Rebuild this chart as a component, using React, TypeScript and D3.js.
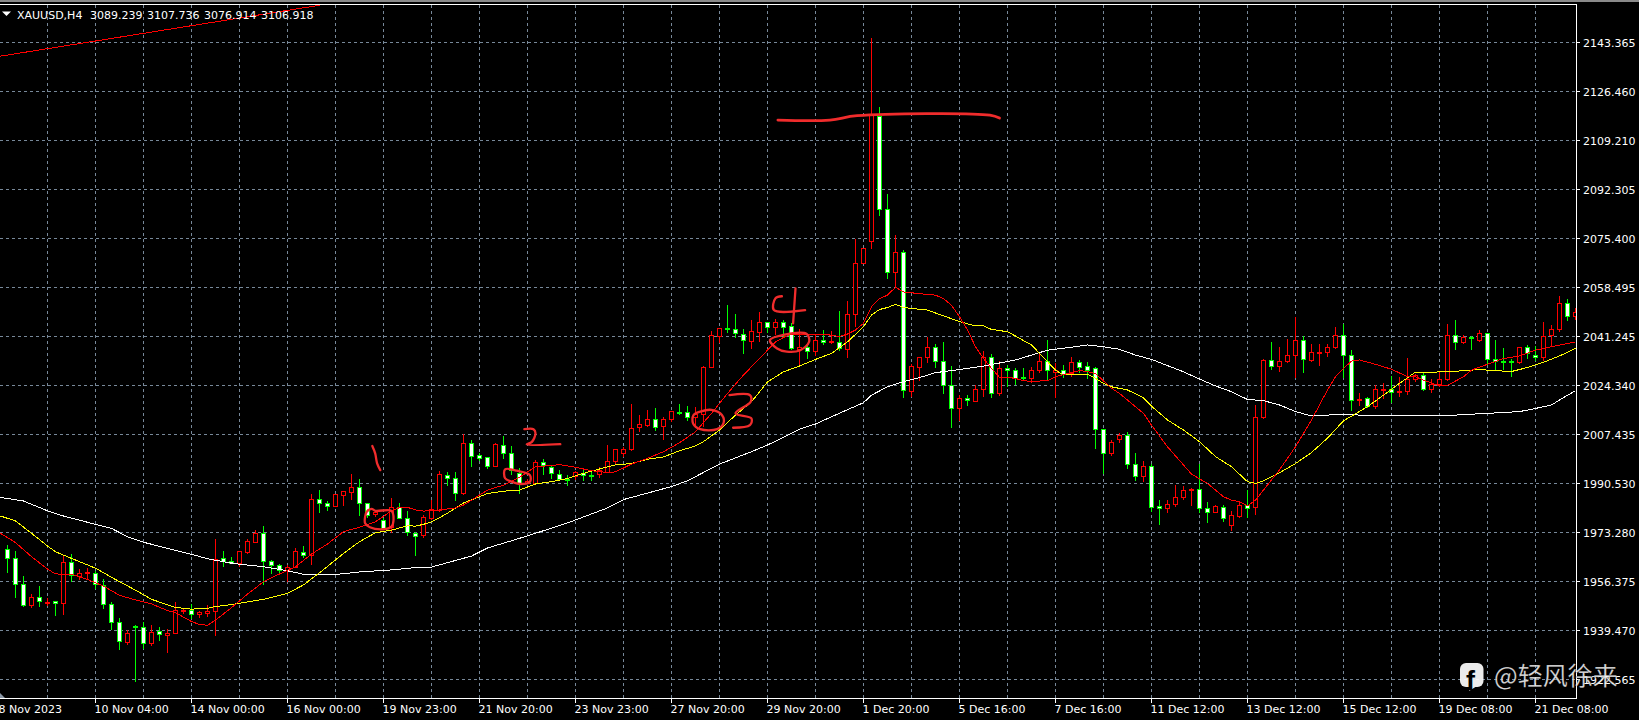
import React from "react";
import * as d3 from "d3";

type C = [number, number, number, number];

// OHLC, one 4-hour candle each
const candlesEarlyNov: C[] = [
  [1967.4,1968.9,1959.3,1964.3],[1964.3,1966.9,1950.7,1955.3],[1955.3,1958.2,1947.6,1948.0],[1948.0,1952.0,1947.2,1950.8],
  [1950.8,1954.7,1947.6,1949.4],[1949.1,1950.5,1947.8,1949.3],[1949.4,1949.6,1944.4,1948.7],[1948.7,1965.1,1944.8,1962.9],
  [1962.9,1965.7,1956.2,1958.4],[1958.2,1960.6,1956.8,1959.1],[1959.1,1960.8,1956.8,1959.5],[1959.3,1960.0,1953.8,1955.3],
  [1955.2,1957.0,1946.9,1948.4],[1948.4,1949.1,1939.5,1942.1],[1942.1,1943.5,1932.5,1935.5],[1935.4,1939.5,1934.3,1938.3],
  [1941.0,1941.2,1921.6,1940.4],[1940.4,1942.1,1933.0,1935.1],[1935.1,1941.2,1933.9,1938.7],[1939.0,1940.4,1935.7,1938.0],
  [1937.9,1939.7,1931.6,1938.3],[1938.3,1949.1,1938.3,1946.3],[1945.9,1947.0,1945.0,1946.4],[1946.3,1948.4,1943.4,1944.9],
  [1944.9,1946.2,1943.6,1945.6],[1945.5,1948.0,1943.9,1945.9],[1945.9,1971.0,1937.5,1964.2],[1964.3,1966.9,1961.4,1963.4],
  [1963.5,1964.8,1962.2,1962.6],[1962.6,1966.7,1961.4,1966.7],[1966.6,1970.9,1965.8,1970.2],[1970.1,1974.1,1969.7,1973.0],
  [1973.0,1975.5,1955.1,1963.3],[1963.3,1963.7,1958.9,1961.9],[1961.9,1962.4,1959.3,1960.3],[1960.2,1962.0,1956.0,1961.4],
  [1961.4,1967.8,1960.8,1966.7],[1966.4,1968.6,1964.5,1965.6],[1965.6,1986.6,1962.0,1984.8],[1984.8,1988.0,1980.0,1983.4],
  [1983.4,1984.2,1980.8,1982.6],[1982.6,1986.8,1982.4,1986.8],[1986.4,1987.5,1982.4,1987.5],[1987.4,1993.5,1984.5,1988.9],
  [1988.9,1991.7,1979.0,1983.4],[1983.4,1983.6,1978.2,1979.3],[1979.7,1981.1,1978.5,1980.5],[1977.6,1978.2,1974.4,1974.7],
  [1975.1,1985.1,1973.0,1982.2],[1982.2,1983.4,1977.8,1978.4],[1978.4,1980.7,1972.2,1973.3],[1973.2,1973.6,1965.2,1971.9],
];
const candlesLateNov: C[] = [
  [1972.4,1979.3,1971.4,1978.7],[1978.4,1984.5,1977.6,1981.4],[1981.1,1994.7,1980.5,1993.4],[1993.1,1994.2,1989.5,1992.3],
  [1992.3,1994.2,1984.3,1987.1],[1987.1,2007.6,1986.3,2004.2],[2004.2,2005.3,1996.1,1999.9],[2000.0,2000.9,1998.1,1999.2],
  [1999.3,1999.3,1995.3,1996.4],[1996.4,2004.2,1996.1,2003.8],[2003.5,2006.7,1998.7,2000.7],[2000.7,2003.3,1993.2,1994.9],
  [1994.0,1995.5,1986.8,1990.5],[1990.5,1992.0,1990.0,1991.2],[1990.5,1998.4,1990.3,1997.6],[1997.6,1998.6,1993.2,1996.7],
  [1996.1,1996.7,1991.8,1993.8],[1993.7,1994.9,1991.5,1992.0],[1992.0,1993.2,1989.5,1991.8],[1993.0,1994.7,1991.5,1994.1],
  [1994.0,1994.9,1991.1,1993.3],[1993.3,1994.9,1991.1,1993.1],[1993.5,1995.9,1992.3,1994.9],[1994.4,2003.5,1994.0,1998.2],
  [1998.2,2002.3,1997.0,2002.3],[2000.9,2003.0,1999.6,2002.4],[2002.3,2018.0,2001.6,2009.6],[2009.7,2014.0,2008.2,2010.8],
  [2010.6,2015.7,2010.0,2012.5],[2012.5,2016.3,2008.5,2010.0],[2010.3,2013.4,2005.3,2012.7],[2012.8,2015.3,2011.7,2015.3],
  [2015.2,2018.0,2014.0,2014.9],[2014.9,2017.1,2011.9,2013.4],[2013.4,2016.9,2010.0,2014.3],[2014.3,2031.0,2010.0,2030.8],
  [2030.8,2043.1,2030.4,2041.6],[2041.5,2044.3,2039.1,2044.3],[2044.3,2052.1,2042.5,2043.9],[2044.0,2049.0,2040.8,2042.5],
  [2042.2,2044.0,2035.1,2040.2],[2039.8,2046.9,2036.9,2043.0],[2042.9,2049.7,2039.4,2046.1],[2046.1,2046.1,2042.3,2044.7],
  [2044.7,2047.2,2041.7,2046.1],[2046.1,2046.9,2041.2,2044.7],[2044.8,2045.8,2036.5,2037.1],[2036.9,2044.0,2030.8,2037.7],
  [2037.7,2038.8,2033.4,2036.1],[2036.1,2041.7,2034.4,2039.9],
];
const candlesEarlyDec: C[] = [
  [2040.2,2043.5,2038.3,2039.4],[2039.3,2043.1,2038.6,2039.7],[2039.4,2050.1,2036.3,2037.1],[2037.0,2053.5,2033.8,2049.1],
  [2049.1,2075.2,2044.4,2066.9],[2066.9,2071.8,2066.8,2071.8],[2074.2,2144.6,2071.7,2118.0],[2117.6,2120.7,2083.0,2085.6],
  [2085.6,2090.6,2061.3,2063.5],[2063.5,2076.4,2057.9,2070.7],[2070.7,2071.4,2020.0,2022.6],[2022.4,2031.6,2020.4,2030.9],
  [2030.8,2034.0,2025.9,2034.0],[2034.0,2041.2,2031.9,2037.5],[2037.5,2038.6,2030.3,2032.6],[2032.6,2039.5,2021.3,2024.5],
  [2024.5,2030.9,2009.4,2016.3],[2016.3,2020.9,2012.0,2019.8],[2019.8,2020.9,2017.1,2019.1],[2019.0,2024.4,2018.6,2023.2],
  [2023.2,2036.1,2020.4,2034.0],[2034.0,2035.2,2020.0,2021.5],[2021.5,2032.7,2020.7,2030.2],[2030.2,2031.3,2023.8,2029.8],
  [2029.7,2030.2,2024.3,2026.9],[2027.1,2030.3,2025.7,2026.8],[2026.7,2030.8,2025.2,2029.5],[2029.5,2036.0,2028.7,2032.6],
  [2032.6,2040.0,2025.9,2029.5],[2029.0,2031.9,2020.0,2029.7],[2029.7,2031.3,2026.7,2028.1],[2028.7,2034.2,2027.3,2032.3],
  [2032.3,2033.1,2028.5,2030.8],[2030.9,2032.4,2026.4,2029.8],
];
const candlesMidDec: C[] = [
  [2030.2,2030.8,2002.3,2009.0],[2009.0,2009.0,1993.6,2000.7],[2000.7,2005.3,1999.9,2004.5],[2005.6,2007.9,2004.4,2007.1],
  [2007.1,2008.0,1995.3,1996.9],[1996.9,2000.7,1991.2,1992.7],[1992.7,1997.9,1990.9,1996.3],[1996.2,1996.9,1980.4,1982.2],
  [1982.3,1984.5,1976.0,1981.7],[1981.7,1984.5,1979.9,1983.0],[1983.0,1989.7,1982.0,1985.5],[1985.5,1989.4,1984.5,1987.9],
  [1987.9,1988.6,1982.6,1988.2],[1988.2,1997.0,1979.9,1981.7],[1981.7,1983.8,1976.5,1980.3],[1980.3,1982.8,1979.9,1982.3],
  [1982.2,1982.8,1977.0,1978.2],[1975.9,1980.7,1973.8,1979.2],[1979.1,1983.8,1978.4,1982.7],[1982.7,1988.0,1978.2,1981.7],
  [1982.0,2017.4,1979.3,2013.5],[2013.5,2033.4,2012.5,2033.0],[2033.0,2039.3,2029.6,2030.9],[2030.9,2037.6,2029.0,2032.6],
  [2032.6,2040.3,2031.9,2035.0],[2035.0,2048.1,2026.7,2040.2],
];
const candlesLateDec: C[] = [
  [2040.2,2041.5,2028.7,2033.3],[2033.2,2038.6,2032.3,2035.7],[2035.5,2038.6,2031.1,2035.8],[2035.7,2038.6,2034.2,2037.7],
  [2037.7,2044.6,2036.8,2041.6],[2041.6,2045.5,2026.7,2035.0],[2035.0,2036.5,2015.5,2019.1],[2019.1,2021.5,2017.1,2019.4],
  [2019.8,2020.1,2016.5,2017.2],[2017.2,2024.4,2016.0,2022.9],[2022.9,2025.0,2019.4,2023.2],[2023.1,2027.5,2018.3,2021.9],
  [2021.9,2027.3,2020.4,2022.2],[2022.2,2033.9,2020.9,2026.4],[2026.4,2028.4,2025.6,2027.8],[2027.8,2029.0,2022.4,2023.2],
  [2023.2,2026.5,2021.5,2024.6],[2024.6,2029.0,2023.6,2026.6],[2026.6,2045.5,2025.9,2041.6],[2041.6,2046.9,2036.5,2039.5],
  [2039.4,2041.7,2038.6,2040.9],[2040.9,2041.5,2036.5,2040.6],[2040.2,2043.5,2039.3,2042.3],[2042.3,2042.5,2031.3,2033.6],
  [2033.3,2040.0,2029.6,2032.6],[2032.7,2037.2,2029.8,2032.4],[2032.6,2033.6,2027.3,2032.4],[2032.3,2037.7,2031.7,2037.5],
  [2037.5,2038.3,2033.6,2035.5],[2035.0,2037.9,2032.8,2034.0],[2034.0,2046.4,2032.8,2041.5],[2041.6,2045.2,2037.5,2044.0],
  [2044.0,2055.3,2042.9,2052.7],[2052.7,2054.2,2046.7,2048.2],[2048.2,2051.0,2046.9,2049.8],
];

// moving averages as [candle number, price]
const fastMA: [number, number][] = [
  [-1,1973.2],[1,1969.8],[3,1964.9],[5,1960.6],[6,1958.9],[8,1958.8],[10,1957.0],[12,1954.7],[14,1951.5],[16,1949.9],[18,1948.5],[20,1946.2],[21,1945.5],[23,1942.4],[24,1941.4],[25,1941.1],[26,1942.9],[28,1947.2],[30,1951.9],[32,1956.2],[34,1958.9],[36,1961.4],[38,1965.8],[40,1969.3],[42,1973.6],[44,1975.1],[46,1977.0],[48,1980.8],[49,1981.9],[50,1982.0],[51,1981.1],
  [52,1980.7],[54,1981.1],[56,1981.8],[57,1982.8],[58,1984.5],[60,1988.0],[62,1989.7],[64,1992.4],[65,1994.3],[66,1996.1],[68,1996.5],[69,1996.8],[71,1995.9],[73,1994.7],[75,1994.1],[76,1994.3],[78,1997.0],[80,1999.0],[82,2001.3],[84,2004.4],[86,2008.2],[88,2014.6],[90,2021.5],[92,2027.9],[94,2033.6],[96,2039.4],[97,2040.9],[98,2042.1],[100,2042.0],[102,2042.1],
  [104,2041.2],[105,2042.1],[106,2043.5],[107,2045.8],[108,2051.6],[109,2054.4],[110,2055.6],[111,2058.3],[112,2056.7],[113,2056.4],[115,2055.8],[116,2055.6],[117,2054.4],[118,2052.1],[119,2048.1],[120,2043.5],[121,2037.7],[122,2033.6],[123,2030.2],[124,2027.1],[125,2027.1],[126,2026.7],[127,2025.9],[128,2025.7],[130,2025.9],[131,2027.3],[133,2028.7],[134,2029.4],[135,2029.1],[136,2028.4],
  [138,2023.3],[139,2021.5],[141,2016.9],[142,2014.6],[143,2010.5],[145,2003.0],[147,1996.7],[148,1993.5],[150,1990.3],[152,1985.7],[153,1984.5],[154,1984.0],[155,1982.5],[156,1984.5],[157,1988.0],[159,1995.0],[161,2003.0],[163,2012.3],[165,2022.7],[166,2027.3],[167,2030.2],[168,2032.7],[169,2033.1],[171,2031.6],[173,2029.9],[175,2027.3],[176,2027.3],[177,2026.1],[179,2024.1],[180,2024.3],[182,2027.3],[183,2029.6],[185,2031.6],[187,2033.6],[189,2034.5],[191,2036.5],[193,2037.7],[195,2038.8],[196,2039.4],
];
const midMA: [number, number][] = [
  [-1,1979.1],[1,1977.3],[3,1973.0],[5,1968.6],[6,1966.6],[8,1964.3],[11,1960.9],[14,1956.2],[16,1953.3],[18,1950.1],[21,1947.3],[23,1946.7],[25,1947.0],[26,1947.6],[28,1948.3],[32,1950.1],[35,1952.2],[37,1955.1],[39,1959.3],[42,1966.0],[44,1970.1],[46,1973.2],[48,1974.1],[50,1975.6],[51,1975.5],
  [52,1976.1],[53,1977.0],[54,1978.4],[55,1980.0],[57,1983.5],[60,1986.8],[62,1987.6],[64,1988.0],[66,1990.1],[68,1990.9],[70,1992.0],[72,1993.8],[74,1995.3],[76,1996.7],[78,1997.2],[80,1998.7],[82,1999.5],[84,2001.6],[86,2003.3],[87,2004.8],[89,2008.8],[91,2014.0],[93,2018.6],[95,2025.5],[97,2029.0],[99,2031.0],[101,2033.3],
  [103,2035.4],[105,2039.4],[107,2044.6],[108,2048.7],[109,2050.6],[110,2051.3],[111,2052.4],[112,2051.3],[115,2050.4],[117,2048.4],[119,2046.4],[121,2044.9],[122,2044.9],[123,2043.7],[125,2042.9],[126,2041.4],[128,2038.3],[129,2035.4],[130,2032.5],[131,2029.6],[132,2027.9],[133,2028.1],[135,2028.1],[136,2026.7],
  [137,2025.0],[138,2023.8],[140,2022.7],[142,2020.0],[143,2017.1],[145,2012.3],[147,2008.8],[149,2004.8],[151,1999.6],[153,1996.1],[155,1990.9],[156,1990.3],[157,1991.2],[159,1994.0],[161,1997.2],[163,2001.0],[165,2006.0],[167,2012.0],[170,2016.9],[172,2020.9],[174,2025.0],[176,2028.9],[178,2028.9],[180,2029.0],[182,2029.4],[184,2029.8],[186,2029.4],[188,2029.1],[190,2030.5],[192,2032.3],[194,2034.5],[196,2037.1],
];
const slowMA: [number, number][] = [
  [-1,1985.5],[2,1984.2],[5,1980.8],[7,1979.0],[11,1976.1],[13,1974.7],[15,1971.8],[17,1969.9],[20,1967.8],[23,1965.7],[25,1964.2],[28,1962.6],[32,1961.4],[35,1960.0],[37,1958.8],[41,1958.7],[44,1959.6],[48,1960.3],[51,1961.1],
  [53,1961.3],[58,1965.1],[60,1967.9],[65,1972.1],[70,1976.6],[75,1981.8],[77,1984.7],[83,1989.2],[85,1991.2],[89,1997.0],[93,2001.3],[95,2003.6],[99,2009.1],[101,2010.9],[103,2013.4],[107,2018.3],[108,2020.9],[110,2023.8],[112,2025.6],[114,2027.0],[116,2028.7],[119,2029.8],[122,2031.0],[126,2033.1],[130,2036.5],[134,2037.9],[135,2038.3],[137,2037.7],[139,2036.8],[141,2034.8],[143,2033.3],[147,2029.0],[149,2026.5],[151,2024.1],[153,2022.1],[155,2019.4],[157,2019.0],[159,2017.5],[161,2015.2],[163,2013.7],[165,2014.0],[167,2014.2],[169,2014.0],[173,2013.8],[177,2013.7],[181,2014.0],[185,2014.6],[189,2015.2],[191,2016.3],[193,2017.5],[195,2020.9],[196,2022.4],
];
const trendLine: [number, number][] = [[-1, 2138.4], [39, 2156.1]];

// hand-drawn marks as [candle number, price]
const markOne: [number, number][] = [[45.6,2003.25],[45.96,2000.7],[46.2,1997.25],[46.6,1994.9]];
const circleOne: [number, number][] = [[44.9,1980.5],[45.5,1981.5],[46,1980.8],[48,1980.8],[48.25,1977.6],[48,1975.3],[47,1974.4],[45.3,1975.1],[44.7,1976.5],[44.7,1978.7]];
const markTwo: [number, number][] = [[64.6,2009.1],[65.75,2009.1],[66,2007.7],[65.55,2004.7],[64.9,2003.8],[69.1,2003.9]];
const circleTwo: [number, number][] = [[62.2,1995.2],[63.7,1994.7],[65.3,1993.2],[65.3,1990.9],[64.1,1990.1],[63,1990.9],[62.2,1992.1]];
const circleThree: [number, number][] = [[85.75,2014],[86.6,2015.2],[88,2015.8],[89.3,2014],[89.5,2011.1],[88.7,2009.1],[86.6,2009.1],[85.7,2011.1]];
const markThree: [number, number][] = [[90.25,2020.9],[92.8,2020.9],[92.9,2018.6],[91,2014.6],[93,2012.8],[92.8,2010.5],[90.7,2009.6]];
const markFourA: [number, number][] = [[96.8,2055.2],[96,2054.5],[95.8,2050.4],[99.7,2050.4]];
const markFourB: [number, number][] = [[98.5,2057.9],[98.2,2045.8]];
const circleFour: [number, number][] = [[95.3,2040],[97,2041.8],[99.9,2042.1],[100.2,2039.4],[99.1,2036.5],[97.4,2036],[96.2,2037.1]];
const topStroke: [number, number][] = [[96.3,2116.3],[102.8,2116.3],[106.2,2117.8],[122.8,2118],[124,2117]];

const priceTicks = ["2143.365","2126.460","2109.210","2092.305","2075.400","2058.495","2041.245","2024.340","2007.435","1990.530","1973.280","1956.375","1939.470","1922.565"];
const timeTicks = ["8 Nov 2023","10 Nov 04:00","14 Nov 00:00","16 Nov 00:00","19 Nov 23:00","21 Nov 20:00","23 Nov 23:00","27 Nov 20:00","29 Nov 20:00","1 Dec 20:00","5 Dec 16:00","7 Dec 16:00","11 Dec 12:00","13 Dec 12:00","15 Dec 12:00","19 Dec 08:00","21 Dec 08:00"];
const legendTexts = ["XAUUSD,H4", "3089.239", "3107.736", "3076.914", "3106.918"];
const watermark = "@轻风徐来";

const candles: C[] = [...candlesEarlyNov, ...candlesLateNov, ...candlesEarlyDec, ...candlesMidDec, ...candlesLateDec];

const W = 1639, H = 720;
const plotRight = 1576.5, plotTop = 4.5, plotBottom = 698.5;
const x = d3.scaleLinear().domain([0, 1]).range([7.5, 15.5]);
const y = d3.scaleLinear().domain([1939.47, 2143.365]).range([630, 42]);
const snap = (v: number) => Math.round(v) + 0.5;
const legendX = [17, 90, 147, 204, 261];
const GRID = "#778899";
const INK = "#f02c2c";

const maLine = d3.line<[number, number]>().x((d) => x(d[0])).y((d) => y(d[1]));
const stroke = d3.line<[number, number]>().x((d) => x(d[0])).y((d) => y(d[1])).curve(d3.curveCatmullRom);
const loop = d3.line<[number, number]>().x((d) => x(d[0])).y((d) => y(d[1])).curve(d3.curveCatmullRomClosed);

export default function App() {
  const verticals = d3.range(5, 192, 6);
  const majors = timeTicks.map((_, k) => -1 + 12 * k);
  return (
    <svg width={W} height={H} viewBox={`0 0 ${W} ${H}`} style={{ position: "fixed", left: 0, top: 0, display: "block", background: "#000" }}>
      <rect width={W} height={H} fill="#000" />
      <rect width={W} height={2} fill="#8a8a8a" />
      <defs>
        <clipPath id="plot"><rect x={0} y={plotTop} width={plotRight} height={plotBottom - plotTop} /></clipPath>
      </defs>
      <g stroke={GRID} strokeDasharray="3 3" shapeRendering="crispEdges" fill="none">
        {priceTicks.map((t) => (
          <line key={t} x1={0} x2={plotRight} y1={snap(y(+t))} y2={snap(y(+t))} />
        ))}
        {verticals.map((i) => (
          <line key={i} x1={x(i)} x2={x(i)} y1={plotTop} y2={plotBottom} />
        ))}
      </g>
      <g clipPath="url(#plot)" shapeRendering="crispEdges">
        {candles.map(([o, h, l, c], i) => {
          const up = c >= o;
          const col = up ? "#ff0000" : "#00ff00";
          const top = Math.round(y(Math.max(o, c)));
          const bot = Math.max(Math.round(y(Math.min(o, c))), top + 1);
          return (
            <g key={i}>
              <line x1={x(i)} x2={x(i)} y1={Math.round(y(h))} y2={Math.round(y(l))} stroke={col} />
              <rect x={x(i) - 2} y={top + 0.5} width={4} height={bot - top} fill={up ? "#000" : "#fff"} stroke={col} />
            </g>
          );
        })}
        <path d={maLine(slowMA)!} fill="none" stroke="#ffffff" />
        <path d={maLine(midMA)!} fill="none" stroke="#ffff00" />
        <path d={maLine(fastMA)!} fill="none" stroke="#ff0000" />
        <path d={maLine(trendLine)!} fill="none" stroke="#ff0000" />
      </g>
      <g clipPath="url(#plot)" fill="none" stroke={INK} strokeWidth={2.3} strokeLinecap="round" strokeLinejoin="round">
        <path d={stroke(markOne)!} />
        <path d={loop(circleOne)!} />
        <path d={stroke(markTwo)!} />
        <path d={loop(circleTwo)!} />
        <path d={loop(circleThree)!} />
        <path d={stroke(markThree)!} />
        <path d={stroke(markFourA)!} />
        <path d={stroke(markFourB)!} />
        <path d={loop(circleFour)!} />
        <path d={stroke(topStroke)!} strokeWidth={2.8} />
      </g>
      <g stroke="#fff" shapeRendering="crispEdges" fill="none">
        <line x1={0} x2={plotRight} y1={plotTop} y2={plotTop} />
        <line x1={0} x2={plotRight} y1={plotBottom} y2={plotBottom} />
        <line x1={plotRight} x2={plotRight} y1={plotTop} y2={plotBottom} />
        {priceTicks.map((t) => (
          <line key={t} x1={plotRight} x2={plotRight + 3.5} y1={snap(y(+t))} y2={snap(y(+t))} />
        ))}
        {majors.map((i) => (
          <line key={i} x1={x(i)} x2={x(i)} y1={plotBottom} y2={plotBottom + 4} />
        ))}
      </g>
      <path d="M0 693L5 698L0 698Z" fill="#8a96a5" />
      <g fill="#fff" fontFamily="'DejaVu Sans', sans-serif" fontSize={11}>
        {priceTicks.map((t) => (
          <text key={t} x={1583} y={snap(y(+t)) + 4}>{t}</text>
        ))}
        {timeTicks.map((t, k) => (
          <text key={t} x={x(majors[k]) - 1} y={713}>{t}</text>
        ))}
        {legendTexts.map((t, k) => (
          <text key={t} x={legendX[k]} y={19}>{t}</text>
        ))}
      </g>
      <path d="M2 11.5L11 11.5L6.5 16Z" fill="#fff" />
      <g opacity={0.92}>
        <rect x={1460} y={663} width={23.5} height={24} rx={6} fill="#fff" />
        <path d="M1469 691L1471 686L1477 686Z" fill="#fff" />
        <text x={1466} y={690} fontFamily="'Liberation Sans', sans-serif" fontWeight="bold" fontSize={27} fill="#000">f</text>
      </g>
      <text x={1494} y={685} fontFamily="'Noto Sans CJK SC', sans-serif" fontSize={25} fill="#fff" fillOpacity={0.85} stroke="#000" strokeOpacity={0.35} strokeWidth={0.5}>{watermark}</text>
    </svg>
  );
}
